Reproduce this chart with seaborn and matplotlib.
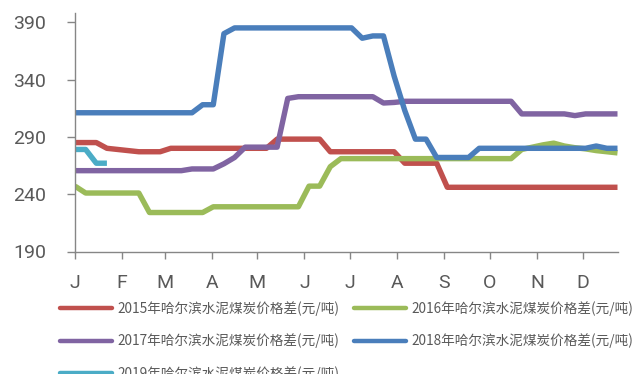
import numpy as np
import pandas as pd
import matplotlib
matplotlib.use("Agg")
import matplotlib.pyplot as plt
from matplotlib.lines import Line2D
import seaborn as sns

# Weekly price spread (yuan/ton), one value per week starting Jan 1
series_names = [
    "2015年哈尔滨水泥煤炭价格差(元/吨)",
    "2016年哈尔滨水泥煤炭价格差(元/吨)",
    "2017年哈尔滨水泥煤炭价格差(元/吨)",
    "2018年哈尔滨水泥煤炭价格差(元/吨)",
    "2019年哈尔滨水泥煤炭价格差(元/吨)",
]
spread_2015 = [285, 285, 285, 280, 279, 278, 277, 277, 277, 280,
               280, 280, 280, 280, 280, 280, 280, 280, 280, 288,
               288, 288, 288, 288, 277, 277, 277, 277, 277, 277,
               277, 267, 267, 267, 267, 246, 246, 246, 246, 246,
               246, 246, 246, 246, 246, 246, 246, 246, 246, 246,
               246, 246]
spread_2016 = [247, 241, 241, 241, 241, 241, 241, 224, 224, 224,
               224, 224, 224, 229, 229, 229, 229, 229, 229, 229,
               229, 229, 247, 247, 264, 271, 271, 271, 271, 271,
               271, 271, 271, 271, 271, 271, 271, 271, 271, 271,
               271, 271, 279, 281, 283, 284.5, 282, 280.5, 279.5, 278,
               277, 276]
spread_2017 = [260.5, 260.5, 260.5, 260.5, 260.5, 260.5, 260.5, 260.5, 260.5, 260.5,
               260.5, 262, 262, 262, 266.5, 272, 281, 281, 281, 281,
               323.5, 325, 325, 325, 325, 325, 325, 325, 325, 319.5,
               320, 321, 321, 321, 321, 321, 321, 321, 321, 321,
               321, 321, 310, 310, 310, 310, 310, 308.5, 310, 310,
               310, 310]
spread_2018 = [311, 311, 311, 311, 311, 311, 311, 311, 311, 311,
               311, 311, 318, 318, 380, 385, 385, 385, 385, 385,
               385, 385, 385, 385, 385, 385, 385, 376, 378, 378,
               343, 313, 288, 288, 272, 272, 272, 272, 280, 280,
               280, 280, 280, 280, 280, 280, 280, 280, 280, 282,
               280, 280]
spread_2019 = [279, 279, 267, 267]

month_labels = ["J", "F", "M", "A", "M", "J", "J", "A", "S", "O", "N", "D"]
month_start_day = [0, 31, 59, 90, 120, 151, 181, 212, 243, 273, 304, 334]
y_ticks = [190, 240, 290, 340, 390]

colors = ["#C0504D", "#9BBB59", "#8064A2", "#4A7EBB", "#4BACC6"]

all_values = [spread_2015, spread_2016, spread_2017, spread_2018, spread_2019]
frames = []
for name, vals in zip(series_names, all_values):
    frames.append(pd.DataFrame({
        "day": np.arange(len(vals)) * 7,
        "value": vals,
        "series": name,
    }))
df = pd.concat(frames, ignore_index=True)

sns.set_style("white")
plt.rcParams["font.family"] = ["Roboto", "DejaVu Sans"]

W, H = 635, 374
fig = plt.figure(figsize=(W / 100, H / 100), dpi=100)
ax_left, ax_right, ax_top, ax_bottom = 75, 617.5, 13, 251.5
ax = fig.add_axes([ax_left / W, 1 - ax_bottom / H,
                   (ax_right - ax_left) / W, (ax_bottom - ax_top) / H])

sns.lineplot(data=df, x="day", y="value", hue="series",
             hue_order=series_names, palette=colors, linewidth=3.9,
             legend=False, ax=ax, solid_joinstyle="round",
             solid_capstyle="butt")

ax.set_xlim(0, 357)
ax.set_ylim(190, 398)
ax.set_xticks(month_start_day)
ax.set_xticklabels(month_labels)
ax.set_yticks(y_ticks)
ax.set_xlabel("")
ax.set_ylabel("")

axis_gray = "#868686"
text_gray = "#595959"
for side in ["top", "right"]:
    ax.spines[side].set_visible(False)
for side in ["left", "bottom"]:
    ax.spines[side].set_color(axis_gray)
    ax.spines[side].set_linewidth(1.0)

ax.tick_params(axis="x", direction="out", length=5, width=1.0,
               color=axis_gray, pad=11, labelsize=14, labelcolor=text_gray,
               bottom=True)
ax.tick_params(axis="y", direction="out", length=6, width=1.0,
               color=axis_gray, pad=15, labelsize=14, labelcolor=text_gray,
               left=True)

# Legend fills column by column; order entries so rows read 2015|2016, 2017|2018, 2019
handles = [Line2D([], [], color=c, linewidth=3.2) for c in colors]
order = [0, 2, 4, 1, 3]
leg = fig.legend([handles[i] for i in order], [series_names[i] for i in order],
                 ncol=2, loc="upper left",
                 bbox_to_anchor=(60 / W, 1 - 301 / H), frameon=False,
                 prop={"family": ["Noto Sans CJK SC", "DejaVu Sans"], "size": 9.8},
                 handlelength=3.8, handletextpad=0.4, columnspacing=1.1,
                 labelspacing=1.3, borderpad=0, borderaxespad=0)
for t in leg.get_texts():
    t.set_color(text_gray)

fig.savefig("out.png", dpi=100, facecolor="white")
